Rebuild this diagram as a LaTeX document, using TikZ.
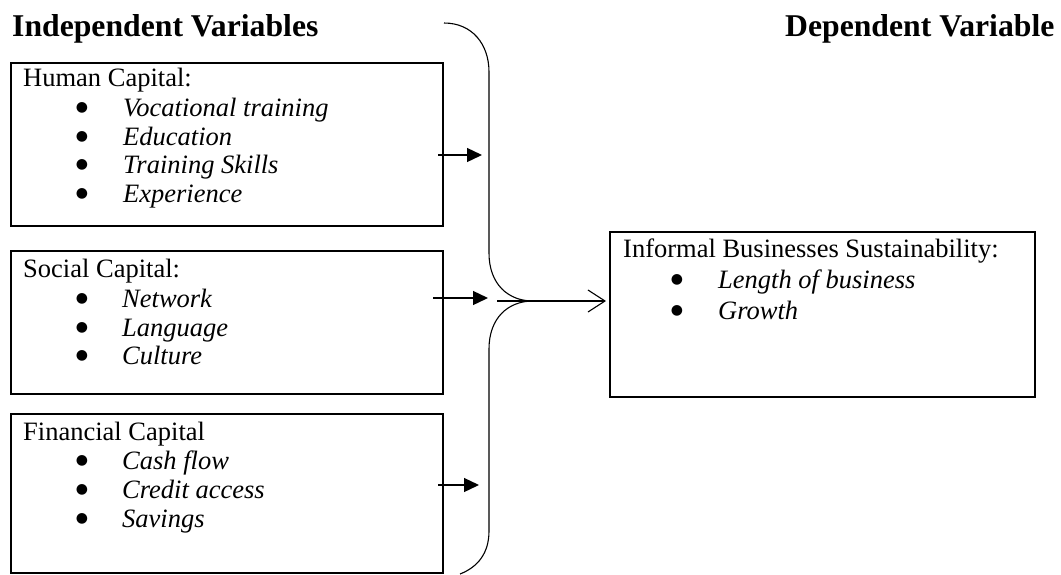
\documentclass[tikz,border=0pt]{standalone}
\usepackage{fontspec}
\setmainfont{Liberation Serif}
\newfontfamily\dotfont{DejaVu Sans}
\usetikzlibrary{arrows.meta}
\begin{document}
\begin{tikzpicture}[x=1pt,y=-1pt,
  box/.style={draw, line width=2pt, rectangle, anchor=north west, inner sep=0pt},
  head/.style={font=\fontsize{31.7}{36}\selectfont\bfseries, anchor=base west, inner sep=0pt},
  ttl/.style={font=\fontsize{26.5}{30}\selectfont, anchor=base west, inner sep=0pt},
  itm/.style={font=\fontsize{26.5}{30}\selectfont\itshape, anchor=base west, inner sep=0pt},
  bul/.style={font=\dotfont\fontsize{14}{16}\selectfont, anchor=base, inner sep=0pt},
  arr/.style={line width=1.3pt, -{Triangle[length=15pt,width=14pt]}},
  outarr/.style={line width=1.1pt, -{Straight Barb[length=17pt,width=22pt,line width=1.1pt]}},
  bracestyle/.style={line width=1.1pt},
]
\useasboundingbox (0,0) rectangle (1061,574);

% headings
\node[head] (hind) at (12,36) {Independent Variables};
\node[head] (hdep) at (785,36) {Dependent Variable};

% boxes
\node[box, minimum width=432pt, minimum height=163pt] (hc) at (10,62) {};
\node[box, minimum width=432pt, minimum height=143pt] (sc) at (10,250) {};
\node[box, minimum width=432pt, minimum height=159pt] (fc) at (10,413) {};
\node[box, minimum width=425pt, minimum height=165pt] (ibs) at (609,231) {};

% Human capital text
\node[ttl] (hct) at (23,86) {Human Capital:};
\node[bul] (hb1) at (82,111) {●}; \node[itm] (hi1) at (123,116) {Vocational training};
\node[bul] (hb2) at (82,140) {●}; \node[itm] (hi2) at (123,145) {Education};
\node[bul] (hb3) at (82,168) {●}; \node[itm] (hi3) at (123,173) {Training Skills};
\node[bul] (hb4) at (82,197) {●}; \node[itm] (hi4) at (123,202) {Experience};

% Social capital text
\node[ttl] (sct) at (23,277) {Social Capital:};
\node[bul] (sb1) at (82,302) {●}; \node[itm] (si1) at (122,307) {Network};
\node[bul] (sb2) at (82,331) {●}; \node[itm] (si2) at (122,336) {Language};
\node[bul] (sb3) at (82,359) {●}; \node[itm] (si3) at (122,364) {Culture};

% Financial capital text
\node[ttl] (fct) at (23,440) {Financial Capital};
\node[bul] (fb1) at (82,464) {●}; \node[itm] (fi1) at (122,469) {Cash flow};
\node[bul] (fb2) at (82,493) {●}; \node[itm] (fi2) at (122,498) {Credit access};
\node[bul] (fb3) at (82,522) {●}; \node[itm] (fi3) at (122,527) {Savings};

% Informal businesses text
\node[ttl] (ibt) at (623,257) {Informal Businesses Sustainability:};
\node[bul] (ib1) at (677,283) {●}; \node[itm] (ii1) at (718,288) {Length of business};
\node[bul] (ib2) at (677,314) {●}; \node[itm] (ii2) at (718,319) {Growth};

% brace
\draw[bracestyle] (444,23) .. controls (472,23) and (489,44) .. (489,72)
  -- (489,253) .. controls (489,284) and (508,301) .. (533,301)
  .. controls (508,301) and (489,318) .. (489,349)
  -- (489,531) .. controls (489,553) and (478,567) .. (460,574);

% connectors
\coordinate (hcs) at (438,155); \coordinate (hce) at (482,155);
\coordinate (scs) at (433,298); \coordinate (sce) at (488,298);
\coordinate (fcs) at (438,485); \coordinate (fce) at (479,485);
\coordinate (outs) at (497,301); \coordinate (oute) at (606,301);
\draw[arr] (hcs) -- (hce);
\draw[arr] (scs) -- (sce);
\draw[arr] (fcs) -- (fce);
\draw[outarr] (outs) -- (oute);
\end{tikzpicture}
\end{document}
